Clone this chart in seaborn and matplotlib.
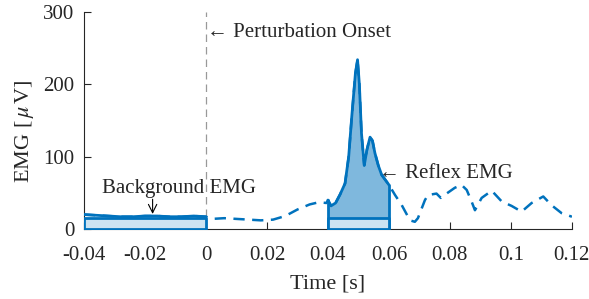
import numpy as np
import pandas as pd
import matplotlib
matplotlib.use("Agg")
import matplotlib.pyplot as plt
import seaborn as sns

# emg trace
time = [-0.04, -0.036, -0.032, -0.028, -0.024, -0.02, -0.016, -0.012, -0.008, -0.004, 0.0,
        0.002, 0.006, 0.01, 0.014, 0.018, 0.022, 0.026, 0.03, 0.034, 0.037, 0.0395,
        0.04, 0.041, 0.0425, 0.044, 0.0456, 0.0468, 0.0478, 0.049, 0.0497, 0.0503, 0.051,
        0.0519, 0.0528, 0.0538, 0.0546, 0.0554, 0.0565, 0.0576, 0.0588, 0.06,
        0.062, 0.0642, 0.0669, 0.0685, 0.0695, 0.0718, 0.0728, 0.0756, 0.077, 0.0789,
        0.0816, 0.0838, 0.0855, 0.0871, 0.0882, 0.0904, 0.0937, 0.097, 0.1002, 0.1035,
        0.1068, 0.1106, 0.1133, 0.1166, 0.12]
emg = [20, 19, 18, 17, 17, 18, 18, 17, 17, 18, 17,
       14, 15, 14, 13, 12, 13, 18, 27, 34, 37, 36,
       40, 32, 36, 48, 63, 100, 155, 215, 234, 200, 132,
       88, 110, 127, 122, 105, 88, 75, 68, 61,
       47, 33, 12, 10, 15, 40, 47, 49, 43, 49,
       57, 61, 54, 38, 26, 43, 53, 38, 32, 24,
       36, 45, 33, 22, 17]

bg_window = [-0.04, 0.0]
reflex_window = [0.04, 0.06]
bg_level = 15

blue = "#0072BD"

df = pd.DataFrame({"t": time, "emg": emg})
bg = df[(df.t >= bg_window[0]) & (df.t <= bg_window[1])]
rf = df[(df.t >= reflex_window[0]) & (df.t <= reflex_window[1])]

sns.set_style("ticks")
plt.rcParams["font.family"] = ["Liberation Serif", "DejaVu Serif"]
plt.rcParams["mathtext.fontset"] = "stix"
plt.rcParams["font.size"] = 15

fig = plt.figure(figsize=(5.89, 2.99), dpi=100)
ax = fig.add_axes([0.1426, 0.234, 0.8284, 0.726])

# onset line
ax.plot([0, 0], [0, 300], color="#999999", lw=0.9, dashes=(6, 4), zorder=1)

# full trace dashed
sns.lineplot(data=df, x="t", y="emg", ax=ax, color=blue, lw=1.8, zorder=3)
ax.lines[-1].set_dashes((4.5, 3))

# reflex window fill + outline
ax.fill_between(rf.t, 0, rf.emg, color=blue, alpha=0.5, lw=0, zorder=2)
ax.plot(rf.t, rf.emg, color=blue, lw=2, zorder=4)
ax.plot([reflex_window[0]] * 2, [0, rf.emg.iloc[0]], color=blue, lw=2, zorder=4)
ax.plot([reflex_window[1]] * 2, [0, rf.emg.iloc[-1]], color=blue, lw=2, zorder=4)
# background trace solid
ax.plot(bg.t, bg.emg, color=blue, lw=2, zorder=4)

# background level boxes
for w in [bg_window, reflex_window]:
    ax.fill_between(w, 0, [bg_level, bg_level], facecolor="#CCE3F2",
                    edgecolor=blue, lw=2, zorder=5)

ax.text(0.0003, 272, "\u2190 Perturbation Onset", ha="left", va="center", fontsize=15)
ax.text(-0.0089, 56, "Background EMG", ha="center", va="center", fontsize=15)
ax.annotate("", xy=(-0.0175, 17), xytext=(-0.0175, 45),
            arrowprops=dict(arrowstyle="->", lw=0.8, color="black"), zorder=6)
ax.text(0.0568, 77, "\u2190 Reflex EMG", ha="left", va="center", fontsize=15)

ax.set_xlim(-0.04, 0.12)
ax.set_ylim(0, 300)
ax.set_xticks([-0.04, -0.02, 0, 0.02, 0.04, 0.06, 0.08, 0.1, 0.12])
ax.set_xticklabels(["-0.04", "-0.02", "0", "0.02", "0.04", "0.06", "0.08", "0.1", "0.12"])
ax.set_yticks([0, 100, 200, 300])
ax.tick_params(direction="in", length=5, width=0.8, colors="#262626",
               labelcolor="#262626", labelsize=15)
ax.tick_params(axis="x", pad=12)
ax.tick_params(axis="y", pad=7)
ax.set_xlabel("Time [s]", fontsize=16, color="#262626", labelpad=7)
ax.set_ylabel("EMG [$\\,\\mu\\,$V]", fontsize=16, color="#262626")
ax.yaxis.set_label_coords(-0.099, 0.45)
for s in ["top", "right"]:
    ax.spines[s].set_visible(False)
for s in ["left", "bottom"]:
    ax.spines[s].set_color("#262626")
    ax.spines[s].set_linewidth(0.8)

fig.savefig("out.png", dpi=100)
